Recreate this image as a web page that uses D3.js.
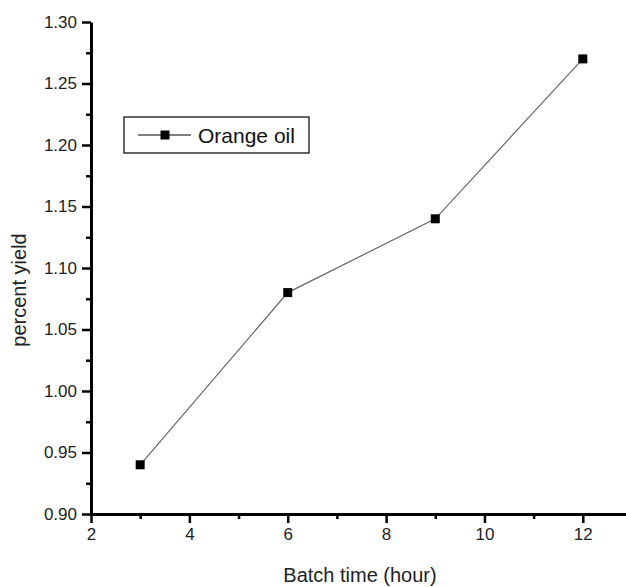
<!DOCTYPE html>
<html>
<head>
<meta charset="utf-8">
<script src="https://cdn.jsdelivr.net/npm/d3@7"></script>
<style>
  body { margin: 0; background: #fff; }
  svg { display: block; font-family: 'Liberation Sans', Arial, sans-serif; }
</style>
</head>
<body>
<div id="chart"></div>
<script>
var batchHours = [3, 6, 9, 12]
var yields = [0.94, 1.08, 1.14, 1.27]
var seriesName = 'Orange oil'
var xTicks = [2, 4, 6, 8, 10, 12]
var yTicks = [0.90, 0.95, 1.00, 1.05, 1.10, 1.15, 1.20, 1.25, 1.30]

var W = 626
var H = 587
var left = 91
var bottom = 514

var svg = d3.select('#chart').append('svg')
  .attr('width', W)
  .attr('height', H)

var x = d3.scaleLinear().domain([2, 13]).range([left, 632])
var y = d3.scaleLinear().domain([0.90, 1.30]).range([bottom, 22])

// minor ticks first, then major on top
svg.append('g')
  .attr('transform', `translate(0,${bottom})`)
  .call(d3.axisBottom(x).tickValues(d3.range(3, 13, 2)).tickSize(5).tickFormat(''))
  .call(g => g.select('.domain').remove())
  .selectAll('line').attr('stroke-width', 2.5)

svg.append('g')
  .attr('transform', `translate(${left},0)`)
  .call(d3.axisLeft(y).tickValues(d3.range(0.925, 1.30, 0.05)).tickSize(5).tickFormat(''))
  .call(g => g.select('.domain').remove())
  .selectAll('line').attr('stroke-width', 2.5)

var xAxis = svg.append('g')
  .attr('transform', `translate(0,${bottom})`)
  .call(d3.axisBottom(x).tickValues(xTicks).tickSize(9).tickSizeOuter(0).tickPadding(5))
xAxis.select('.domain').attr('stroke-width', 3)
xAxis.selectAll('.tick line').attr('stroke-width', 2.5)
xAxis.selectAll('text').attr('font-size', 17).attr('fill', '#222')
  .attr('font-family', 'Liberation Sans, Arial, sans-serif')

var yAxis = svg.append('g')
  .attr('transform', `translate(${left},0)`)
  .call(d3.axisLeft(y).tickValues(yTicks).tickSize(9).tickSizeOuter(0).tickPadding(5)
    .tickFormat(d3.format('.2f')))
yAxis.select('.domain').attr('stroke-width', 3)
yAxis.selectAll('.tick line').attr('stroke-width', 2.5)
yAxis.selectAll('text').attr('font-size', 17).attr('fill', '#222')
  .attr('font-family', 'Liberation Sans, Arial, sans-serif')

// axis titles
svg.append('text')
  .attr('x', 360)
  .attr('y', 582)
  .attr('text-anchor', 'middle')
  .attr('font-size', 20)
  .attr('fill', '#222')
  .text('Batch time (hour)')

svg.append('text')
  .attr('transform', 'translate(26,290) rotate(-90)')
  .attr('text-anchor', 'middle')
  .attr('font-size', 20)
  .attr('fill', '#222')
  .text('percent yield')

// series
var data = batchHours.map((h, i) => ({ h: h, v: yields[i] }))
var line = d3.line().x(d => x(d.h)).y(d => y(d.v))

svg.append('path')
  .datum(data)
  .attr('d', line)
  .attr('fill', 'none')
  .attr('stroke', '#666')
  .attr('stroke-width', 1.2)

var sq = 9
svg.selectAll('rect.pt')
  .data(data)
  .enter()
  .append('rect')
  .attr('class', 'pt')
  .attr('x', d => x(d.h) - sq / 2)
  .attr('y', d => y(d.v) - sq / 2)
  .attr('width', sq)
  .attr('height', sq)
  .attr('fill', '#000')

// legend
var legend = svg.append('g').attr('transform', 'translate(124,117)')
legend.append('rect')
  .attr('width', 185)
  .attr('height', 36)
  .attr('fill', '#fff')
  .attr('stroke', '#000')
  .attr('stroke-width', 1.2)
legend.append('line')
  .attr('x1', 14).attr('x2', 67)
  .attr('y1', 18).attr('y2', 18)
  .attr('stroke', '#000')
  .attr('stroke-width', 1.2)
legend.append('rect')
  .attr('x', 41 - sq / 2)
  .attr('y', 18 - sq / 2)
  .attr('width', sq)
  .attr('height', sq)
  .attr('fill', '#000')
legend.append('text')
  .attr('x', 74)
  .attr('y', 26)
  .attr('font-size', 21)
  .attr('fill', '#111')
  .text(seriesName)
</script>
</body>
</html>
